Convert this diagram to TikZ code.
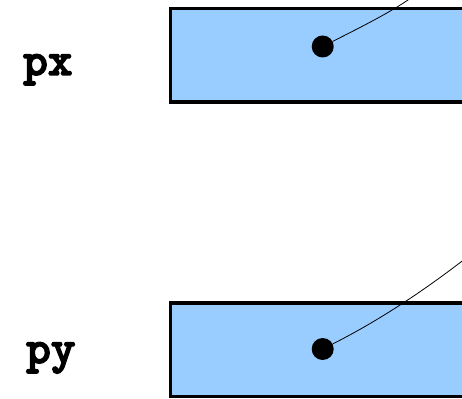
\documentclass[tikz,border=0pt]{standalone}
\usepackage{fontspec}
\newfontfamily\codefont[FakeBold=3]{lmmonolt10-bold.otf}
\definecolor{cellblue}{HTML}{99CCFF}

\begin{document}
\begin{tikzpicture}[x=1pt,y=-1pt, var/.style={font=\codefont\fontsize{47}{47}\selectfont,anchor=base west,inner sep=0pt}, cell/.style={draw=black,line width=3.2pt,fill=cellblue,minimum width=320pt,minimum height=93.5pt,anchor=north west,inner sep=0pt,outer sep=0pt}, dot/.style={circle,fill=black,minimum size=22pt,inner sep=0pt}, link/.style={line width=0.8pt}]
  \useasboundingbox (0,0) rectangle (462,398);
  \clip (0,0) rectangle (462,398);
  \foreach \v/\top/\dy/\base/\lx in {x/8.5/46.5/75/23, y/303/349/363/26}{
    \node[var] (p\v) at (\lx,\base) {p\v};
    \node[cell] (c\v) at (170.5,\top) {};
    \node[dot] (d\v) at (322.7,\dy) {};
  }
  % pointers leave the picture at the top right
  \coordinate (tx) at (415,-5);
  \coordinate (ty) at (470,255);
  \draw[link] (dx) .. controls (365,25) and (395,10) .. (tx);
  \draw[link] (dy) .. controls (380,320) and (425,290) .. (ty);
\end{tikzpicture}
\end{document}
